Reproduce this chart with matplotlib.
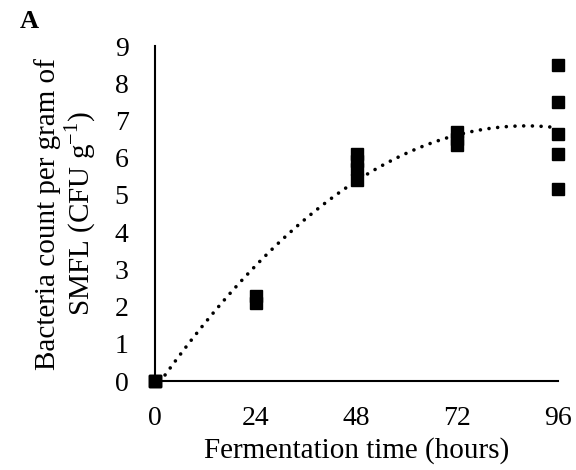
import numpy as np
import matplotlib.pyplot as plt

plt.rcParams['font.family'] = ['Liberation Serif', 'DejaVu Serif']
plt.rcParams['mathtext.fontset'] = 'custom'
plt.rcParams['mathtext.rm'] = 'Liberation Serif'

# fermentation time (hours) and bacteria counts (log CFU/g)
hours = [0, 0, 0, 24, 24, 48, 48, 48, 48, 72, 72, 72, 96, 96, 96, 96, 96]
counts = [0, 0, 0, 2.1, 2.3, 5.4, 5.7, 5.9, 6.1, 6.35, 6.5, 6.7, 5.15, 6.1, 6.65, 7.5, 8.5]
x_ticks = [0, 24, 48, 72, 96]
y_ticks = list(range(0, 10))

fig = plt.figure(figsize=(5.76, 4.7), dpi=100)
ax = fig.add_axes([0.269, 0.189, 0.700, 0.713])

# second-order polynomial trendline (as in the spreadsheet)
coef = np.polyfit(hours, counts, 2)
xs = np.linspace(0, 96, 300)
ax.plot(xs, np.polyval(coef, xs), color='black', lw=2.6,
        ls=(0, (0.01, 2.4)), dash_capstyle='round', zorder=2)

ax.plot(hours, counts, 's', color='black', ms=8, zorder=3, clip_on=False)

ax.set_xlim(0, 96)
ax.set_ylim(0, 9)
ax.set_xticks(x_ticks)
ax.set_yticks(y_ticks)
ax.tick_params(length=0, labelsize=20)
ax.tick_params(axis='x', pad=18)
ax.tick_params(axis='y', pad=19)
for s in ['top', 'right']:
    ax.spines[s].set_visible(False)
for s in ['left', 'bottom']:
    ax.spines[s].set_linewidth(1.5)

ax.set_xlabel('Fermentation time (hours)', fontsize=21, labelpad=4)
ax.set_ylabel('Bacteria count per gram of\nSMFL (CFU g$^{-1}$)', fontsize=21,
              labelpad=12, linespacing=1.05)

fig.text(0.035, 0.955, 'A', fontsize=19, fontweight='bold', va='center')

fig.savefig('out.png', dpi=100)
